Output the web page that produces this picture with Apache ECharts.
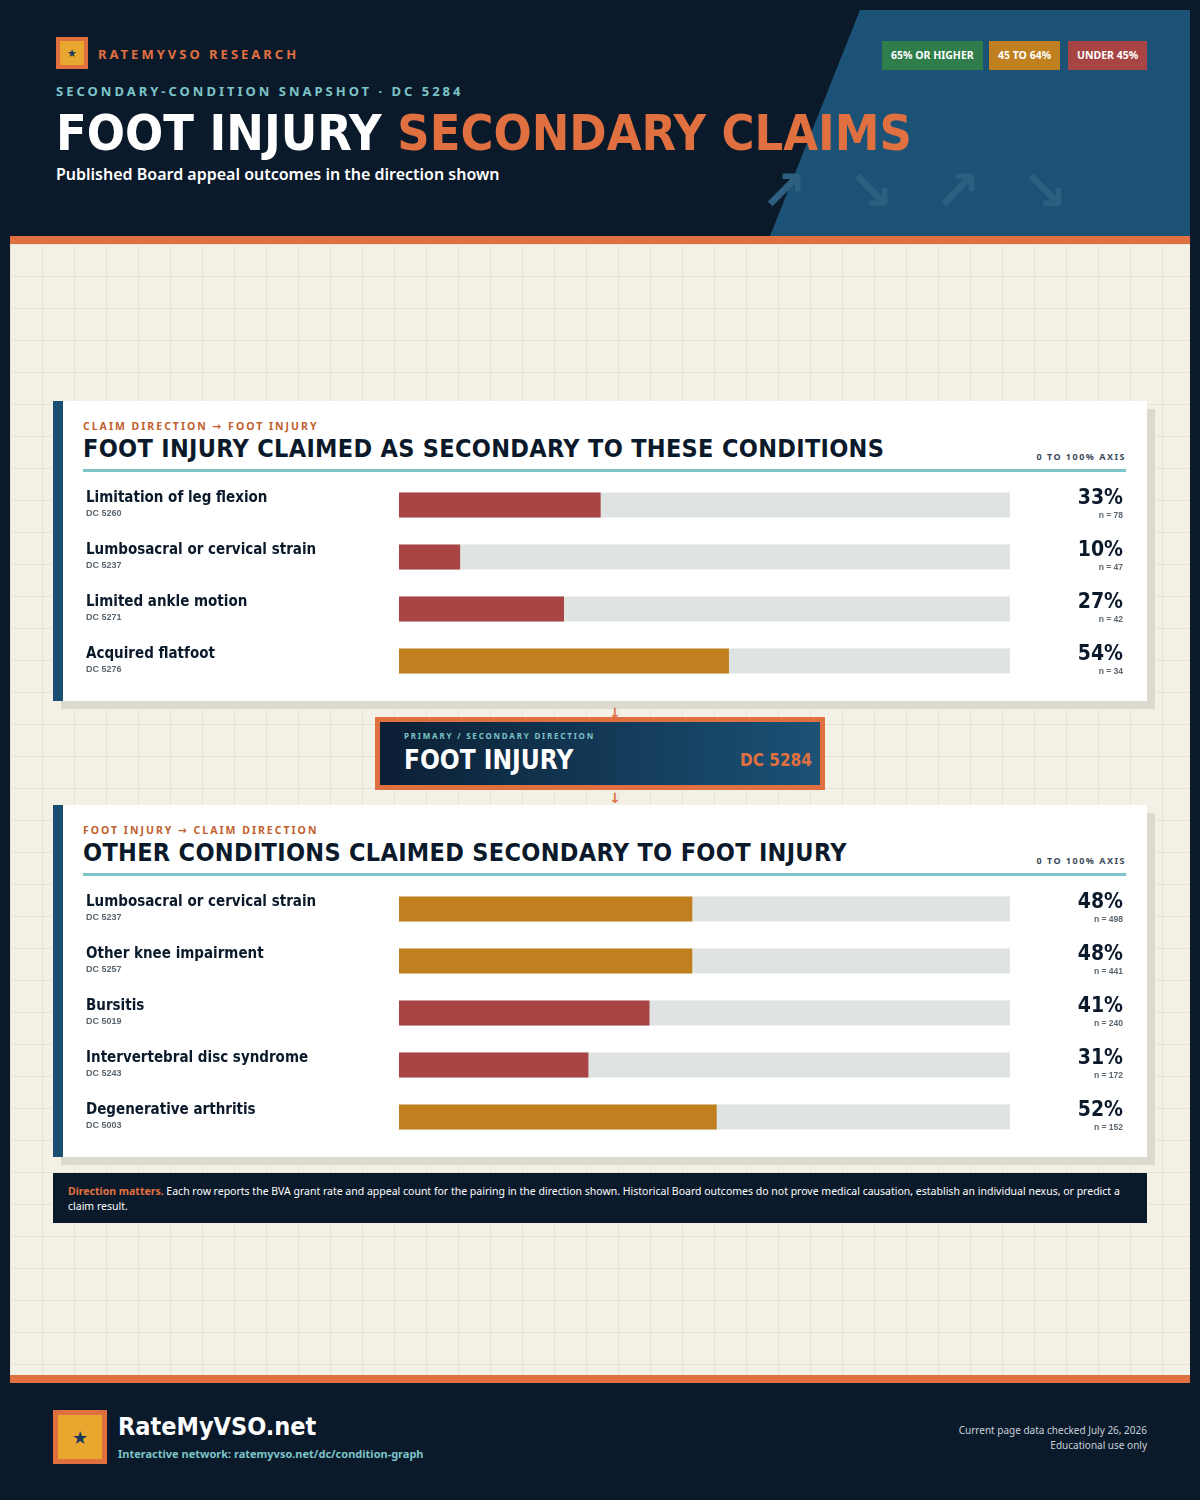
<!DOCTYPE html>
<html><head><meta charset="utf-8">
<script src="https://cdn.jsdelivr.net/npm/echarts@6/dist/echarts.min.js"></script>
<style>
body{margin:0;width:1200px;height:1500px;background:#0b1a2b;position:relative;overflow:hidden;font-family:"Noto Sans","DejaVu Sans",sans-serif}
.abs{position:absolute}
.cond{font-family:"Liberation Sans Narrow","DejaVu Sans Condensed","Roboto",sans-serif;font-weight:bold;font-stretch:condensed}
#body{left:10px;top:244px;width:1180px;height:1131px;background-color:#f3f0e6;background-image:linear-gradient(#e6e2d6 1px,transparent 1px),linear-gradient(90deg,#e6e2d6 1px,transparent 1px);background-size:32px 32px}
.stripe{left:10px;width:1180px;height:8px;background:#e07040}
.panel{left:53px;width:1094px;background:#fff;border-left:10px solid #1b4f72;box-sizing:border-box;box-shadow:8px 8px 0 #dcd9cf}
.kick{font-size:10.5px;letter-spacing:2px;color:#c0602c;font-weight:bold}
.ptitle{font-size:25px;color:#0b1a2b;letter-spacing:0.3px}
.axisnote{font-size:9px;letter-spacing:1.5px;color:#3a4a5a;font-weight:bold}
.rule{height:3px;background:#7cc4c8}
.chip{top:41px;height:29px;line-height:29px;color:#fff;font-size:10.5px;font-weight:bold;padding:0 9px}
</style></head><body>
<div class="abs" style="left:770px;top:10px;width:420px;height:226px;background:#1b5276;clip-path:polygon(90px 0,420px 0,420px 226px,0 226px)"></div>
<div class="abs" style="left:760px;top:150px;font-size:56px;color:#2d5f80;letter-spacing:40px;font-weight:bold">↗↘↗↘</div>
<div class="abs" style="left:56px;top:37px;width:32px;height:32px;background:#e07040"><div style="margin:4px;width:24px;height:24px;background:#e8a830;text-align:center;line-height:24px;font-size:11px;color:#1b3a5a">★</div></div>
<div class="abs" style="left:98px;top:45px;font-size:13px;letter-spacing:3px;color:#e07040;font-weight:bold">RATEMYVSO RESEARCH</div>
<div class="abs" style="left:56px;top:82px;font-size:13px;letter-spacing:3px;color:#7cc4c8;font-weight:bold">SECONDARY-CONDITION SNAPSHOT · DC 5284</div>
<div class="abs cond" style="left:56px;top:104px;font-size:50px;color:#fff;white-space:nowrap">FOOT INJURY <span style="color:#e07040">SECONDARY CLAIMS</span></div>
<div class="abs" style="left:56px;top:163px;font-size:16px;color:#fff;font-weight:600">Published Board appeal outcomes in the direction shown</div>
<div class="abs chip" style="left:882px;background:#2e7d4a">65% OR HIGHER</div>
<div class="abs chip" style="left:989px;background:#c08020">45 TO 64%</div>
<div class="abs chip" style="left:1068px;background:#a84444">UNDER 45%</div>
<div class="abs stripe" style="top:236px"></div>
<div id="body" class="abs"></div>
<div class="abs stripe" style="top:1375px"></div>

<div class="abs panel" style="top:401px;height:300px"></div>
<div class="abs kick" style="left:83px;top:419px">CLAIM DIRECTION → FOOT INJURY</div>
<div class="abs ptitle cond" style="left:83px;top:434px">FOOT INJURY CLAIMED AS SECONDARY TO THESE CONDITIONS</div>
<div class="abs axisnote" style="right:74px;top:450px">0 TO 100% AXIS</div>
<div class="abs rule" style="left:83px;top:469px;width:1043px"></div>
<div id="c1" class="abs" style="left:83px;top:479px;width:1043px;height:208px"></div>

<div class="abs" style="left:609px;top:703px;color:#e07040;font-size:14px;font-weight:bold">↓</div>
<div class="abs" style="left:375px;top:717px;width:450px;height:73px;box-sizing:border-box;border:5px solid #e07040;background:linear-gradient(90deg,#0b1f35,#1b5276)"></div>
<div class="abs" style="left:404px;top:730px;font-size:8px;letter-spacing:1.8px;color:#7cc4c8;font-weight:bold">PRIMARY / SECONDARY DIRECTION</div>
<div class="abs cond" style="left:404px;top:745px;font-size:26px;color:#fff">FOOT INJURY</div>
<div class="abs cond" style="left:740px;top:750px;font-size:17px;color:#e07040">DC 5284</div>
<div class="abs" style="left:609px;top:788px;color:#e07040;font-size:14px;font-weight:bold">↓</div>

<div class="abs panel" style="top:805px;height:352px"></div>
<div class="abs kick" style="left:83px;top:823px">FOOT INJURY → CLAIM DIRECTION</div>
<div class="abs ptitle cond" style="left:83px;top:838px">OTHER CONDITIONS CLAIMED SECONDARY TO FOOT INJURY</div>
<div class="abs axisnote" style="right:74px;top:854px">0 TO 100% AXIS</div>
<div class="abs rule" style="left:83px;top:873px;width:1043px"></div>
<div id="c2" class="abs" style="left:83px;top:883px;width:1043px;height:260px"></div>

<div class="abs" style="left:53px;top:1173px;width:1094px;height:50px;background:#0b1a2b;box-sizing:border-box;padding:11px 15px;font-size:10.5px;line-height:15px;color:#fff"><b style="color:#e07040">Direction matters.</b> Each row reports the BVA grant rate and appeal count for the pairing in the direction shown. Historical Board outcomes do not prove medical causation, establish an individual nexus, or predict a claim result.</div>

<div class="abs" style="left:53px;top:1410px;width:54px;height:54px;background:#e07040"><div style="margin:5px;width:44px;height:44px;background:#e8a830;text-align:center;line-height:44px;font-size:18px;color:#1b3a5a">★</div></div>
<div class="abs cond" style="left:118px;top:1412px;font-size:25px;color:#fff">RateMyVSO.net</div>
<div class="abs" style="left:118px;top:1446px;font-size:11px;color:#7cc4c8;font-weight:bold">Interactive network: ratemyvso.net/dc/condition-graph</div>
<div class="abs" style="right:53px;top:1423px;font-size:10px;color:#c8d0d8;text-align:right;line-height:15px">Current page data checked July 26, 2026<br>Educational use only</div>

<script>
const names1=["Limitation of leg flexion","Lumbosacral or cervical strain","Limited ankle motion","Acquired flatfoot"];
const dcs1=["DC 5260","DC 5237","DC 5271","DC 5276"];
const rates1=[33,10,27,54];
const counts1=[78,47,42,34];
const names2=["Lumbosacral or cervical strain","Other knee impairment","Bursitis","Intervertebral disc syndrome","Degenerative arthritis"];
const dcs2=["DC 5237","DC 5257","DC 5019","DC 5243","DC 5003"];
const rates2=[48,48,41,31,52];
const counts2=[498,441,240,172,152];
function col(v){return v>=65?'#2e7d4a':v>=45?'#c08020':'#a84444';}
function build(id,names,dcs,rates,counts){
  const ch=echarts.init(document.getElementById(id));
  const cats=names.map((n,i)=>i);
  ch.setOption({
    animation:false,
    grid:{left:313,right:113,top:0,bottom:0},
    xAxis:{type:'value',min:0,max:100,show:false},
    yAxis:[{type:'category',data:cats,inverse:true,axisLine:{show:false},axisTick:{show:false},
      axisLabel:{align:'left',margin:313,formatter:i=>'{a|'+names[i]+'}\n{b|'+dcs[i]+'}',
        rich:{a:{fontFamily:'Liberation Sans Narrow, DejaVu Sans Condensed',fontWeight:'bold',fontSize:15,color:'#0b1a2b',lineHeight:18},
              b:{fontSize:9,color:'#5a6670',fontWeight:'bold',lineHeight:14}}}},
      {type:'category',data:cats,inverse:true,position:'right',axisLine:{show:false},axisTick:{show:false},
      axisLabel:{align:'right',margin:113,formatter:i=>'{a|'+rates[i]+'%}\n{b|n = '+counts[i]+'}',
        rich:{a:{fontFamily:'Liberation Sans Narrow, DejaVu Sans Condensed',fontWeight:'bold',fontSize:21,color:'#0b1a2b',lineHeight:22,align:'right'},
              b:{fontSize:8.5,color:'#5a6670',fontWeight:'bold',lineHeight:12,align:'right'}}}}],
    series:[{type:'bar',data:rates.map(v=>({value:v,itemStyle:{color:col(v)}})),barWidth:25,
      showBackground:true,backgroundStyle:{color:'#dfe3e1'}}]
  });
}
build('c1',names1,dcs1,rates1,counts1);
build('c2',names2,dcs2,rates2,counts2);
</script>
</body></html>
